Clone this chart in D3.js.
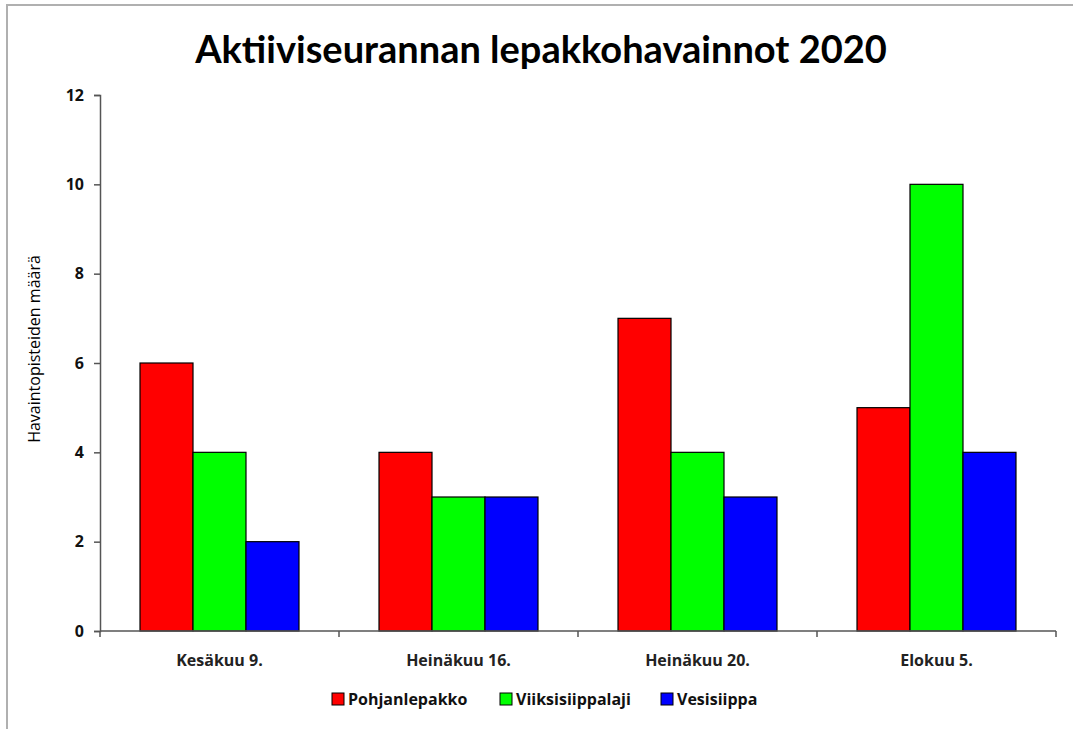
<!DOCTYPE html>
<html>
<head>
<meta charset="utf-8">
<script src="https://cdn.jsdelivr.net/npm/d3@7"></script>
<style>
  html, body { margin: 0; padding: 0; background: #fff; }
  svg { display: block; }
  text { font-family: "Open Sans", sans-serif; }
</style>
</head>
<body>
<svg id="chart" width="1073" height="729"></svg>
<script>
// Observation dates and bat species
const categories = ["Kesäkuu 9.", "Heinäkuu 16.", "Heinäkuu 20.", "Elokuu 5."];
const seriesNames = ["Pohjanlepakko", "Viiksisiippalaji", "Vesisiippa"];
const pohjanlepakko = [6, 4, 7, 5];
const viiksisiippalaji = [4, 3, 4, 10];
const vesisiippa = [2, 3, 3, 4];
const seriesColors = ["#ff0000", "#00ff00", "#0000ff"];
const yTicks = [0, 2, 4, 6, 8, 10, 12];

const seriesValues = [pohjanlepakko, viiksisiippalaji, vesisiippa];

const svg = d3.select("#chart");
const W = 1073, H = 729;
const plot = { left: 100, right: 1056, top: 95, bottom: 631 };

// Outer frame
svg.append("line").attr("x1", 6).attr("x2", W).attr("y1", 5).attr("y2", 5)
  .attr("stroke", "#b0b0b0").attr("stroke-width", 2);
svg.append("line").attr("x1", 7).attr("x2", 7).attr("y1", 5).attr("y2", H)
  .attr("stroke", "#b0b0b0").attr("stroke-width", 2);

// Title
svg.append("text")
  .attr("x", 541).attr("y", 63)
  .attr("text-anchor", "middle")
  .style("font-family", "Lato, sans-serif")
  .attr("font-size", 38).attr("font-weight", "bold").attr("fill", "#000")
  .text("Aktiiviseurannan lepakkohavainnot 2020");

// Scales
const x0 = d3.scaleBand().domain(categories).range([plot.left, plot.right]).padding(0);
const x1 = d3.scaleBand().domain(seriesNames).range([0, x0.bandwidth()])
  .paddingInner(0).paddingOuter(0.755);
const y = d3.scaleLinear().domain([0, 12]).range([plot.bottom, plot.top]);

// Bars
const rows = categories.map((c, i) => ({
  cat: c,
  vals: seriesNames.map((s, j) => ({ name: s, value: seriesValues[j][i], color: seriesColors[j] }))
}));

const groups = svg.append("g").selectAll("g").data(rows).join("g")
  .attr("transform", d => `translate(${x0(d.cat)},0)`);
groups.selectAll("rect").data(d => d.vals).join("rect")
  .attr("x", d => x1(d.name))
  .attr("y", d => y(d.value))
  .attr("width", x1.bandwidth())
  .attr("height", d => y(0) - y(d.value))
  .attr("fill", d => d.color)
  .attr("stroke", "#000").attr("stroke-width", 1.2);

// Y axis
const yAxis = svg.append("g").attr("transform", `translate(${plot.left},0)`)
  .call(d3.axisLeft(y).tickValues(yTicks).tickSize(6).tickPadding(10).tickFormat(d3.format("d")));
yAxis.select(".domain").attr("stroke", "#555").attr("stroke-width", 1.5);
yAxis.selectAll(".tick line").attr("stroke", "#555").attr("stroke-width", 1.5);
yAxis.selectAll(".tick text")
  .attr("font-size", 16).attr("font-weight", "bold").attr("fill", "#111")
  .style("font-family", "'Open Sans', sans-serif");

// X axis: category boundaries as ticks
const xAxisG = svg.append("g").attr("transform", `translate(0,${plot.bottom})`);
const boundaries = categories.map(c => x0(c)).concat([plot.right]);
xAxisG.append("line").attr("x1", plot.left).attr("x2", plot.right)
  .attr("y1", 0).attr("y2", 0).attr("stroke", "#555").attr("stroke-width", 1.5);
xAxisG.selectAll("line.tk").data(boundaries).join("line").attr("class", "tk")
  .attr("x1", d => d).attr("x2", d => d).attr("y1", 0).attr("y2", 6)
  .attr("stroke", "#555").attr("stroke-width", 1.5);
xAxisG.selectAll("text").data(categories).join("text")
  .attr("x", d => x0(d) + x0.bandwidth() / 2)
  .attr("y", 35)
  .attr("text-anchor", "middle")
  .attr("font-size", 16).attr("font-weight", "bold").attr("fill", "#222")
  .text(d => d);

// Y axis title
svg.append("text")
  .attr("transform", "translate(40,349) rotate(-90)")
  .attr("text-anchor", "middle")
  .attr("font-size", 16).attr("fill", "#000")
  .text("Havaintopisteiden määrä");

// Legend
const legendX = [332, 500, 661];
const legend = svg.append("g").selectAll("g").data(seriesNames).join("g")
  .attr("transform", (d, i) => `translate(${legendX[i]},693)`);
legend.append("rect")
  .attr("width", 12).attr("height", 12)
  .attr("fill", (d, i) => seriesColors[i])
  .attr("stroke", "#000").attr("stroke-width", 1);
legend.append("text")
  .attr("x", 16).attr("y", 12)
  .attr("font-size", 16).attr("font-weight", "bold").attr("fill", "#111")
  .text(d => d);
</script>
</body>
</html>
